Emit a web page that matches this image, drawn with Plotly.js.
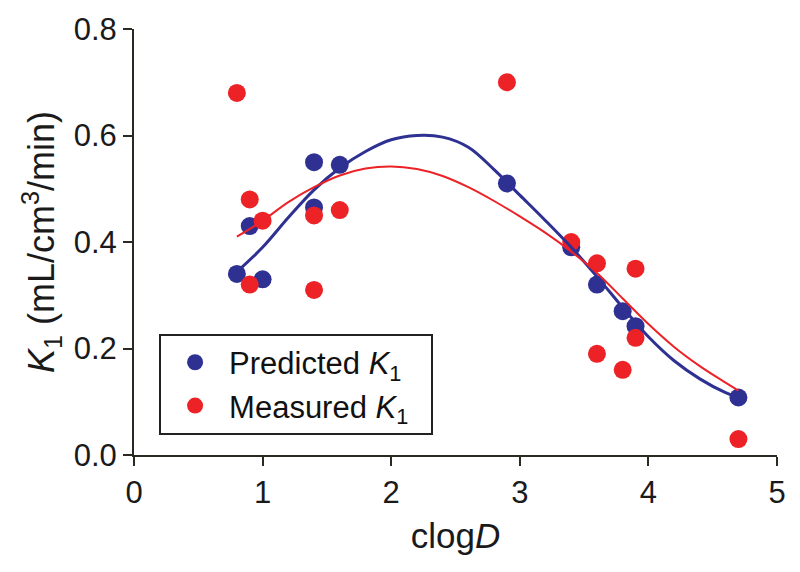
<!DOCTYPE html>
<html>
<head>
<meta charset="utf-8">
<script src="https://cdn.plot.ly/plotly-3.0.1.min.js"></script>
<style>html,body{margin:0;padding:0;background:#fff;}#chart{width:800px;height:572px;}</style>
</head>
<body>
<div id="chart"></div>
<script>
// Predicted K1 points
const predX = [0.8, 0.9, 1.0, 1.4, 1.4, 1.6, 2.9, 3.4, 3.6, 3.8, 3.9, 4.7];
const predY = [0.34, 0.43, 0.33, 0.55, 0.465, 0.545, 0.51, 0.39, 0.32, 0.27, 0.242, 0.108];
// Measured K1 points
const measX = [0.8, 0.9, 0.9, 1.0, 1.4, 1.4, 1.6, 2.9, 3.4, 3.6, 3.6, 3.8, 3.9, 3.9, 4.7];
const measY = [0.68, 0.48, 0.32, 0.44, 0.45, 0.31, 0.46, 0.70, 0.40, 0.36, 0.19, 0.16, 0.35, 0.22, 0.03];
// Fitted curves
const fitX = [0.8, 1.0, 1.2, 1.4, 1.6, 1.8, 2.0, 2.2, 2.4, 2.6, 2.8, 3.0, 3.2, 3.4, 3.6, 3.8, 4.0, 4.2, 4.4, 4.6, 4.7];
const predFit = [0.344, 0.39, 0.446, 0.498, 0.539, 0.570, 0.592, 0.600, 0.597, 0.578, 0.536, 0.488, 0.440, 0.390, 0.335, 0.277, 0.222, 0.177, 0.143, 0.117, 0.108];
const measFit = [0.41, 0.440, 0.475, 0.503, 0.525, 0.538, 0.542, 0.537, 0.524, 0.503, 0.477, 0.448, 0.417, 0.382, 0.342, 0.294, 0.246, 0.203, 0.167, 0.136, 0.121];
const xTicks = [0, 1, 2, 3, 4, 5];
const yTicks = [0.0, 0.2, 0.4, 0.6, 0.8];

const BLUE = '#2e3192';
const RED = '#ec2227';
const FONT = 'Liberation Sans, Arial, Helvetica, sans-serif';

const traces = [
  {x: predX, y: predY, mode: 'markers', type: 'scatter', name: 'Predicted <i>K</i><sub>1</sub>&nbsp;&nbsp;',
   marker: {color: BLUE, size: 18, symbol: 'circle'}},
  {x: measX, y: measY, mode: 'markers', type: 'scatter', name: 'Measured <i>K</i><sub>1</sub>&nbsp;&nbsp;',
   marker: {color: RED, size: 18, symbol: 'circle'}},
  {x: fitX, y: predFit, mode: 'lines', type: 'scatter', showlegend: false,
   line: {color: BLUE, width: 3, shape: 'spline', smoothing: 1}},
  {x: fitX, y: measFit, mode: 'lines', type: 'scatter', showlegend: false,
   line: {color: RED, width: 2, shape: 'spline', smoothing: 1}}
];

const layout = {
  width: 800, height: 572,
  margin: {l: 134, r: 23, t: 29, b: 117},
  paper_bgcolor: '#fff', plot_bgcolor: '#fff',
  font: {family: FONT, color: '#1a1a1a', size: 30},
  xaxis: {
    range: [0, 5], tickvals: xTicks, ticktext: xTicks.map(String),
    showgrid: false, zeroline: false, showline: true, linecolor: '#2a2a22', linewidth: 2,
    ticks: 'outside', ticklen: 9, tickwidth: 2, tickcolor: '#2a2a22',
    tickfont: {size: 31, family: FONT, color: '#1a1a1a'},
    title: {text: 'clog<i>D</i>', font: {size: 35, family: FONT, color: '#1a1a1a'}, standoff: 14},
    automargin: false
  },
  yaxis: {
    range: [0, 0.8], tickvals: yTicks, ticktext: yTicks.map(v => v.toFixed(1)),
    showgrid: false, zeroline: false, showline: true, linecolor: '#2a2a22', linewidth: 2,
    ticks: 'outside', ticklen: 9, tickwidth: 2, tickcolor: '#2a2a22',
    tickfont: {size: 31, family: FONT, color: '#1a1a1a'},
    title: {text: '<i>K</i><sub>1</sub> (mL/cm<sup>3</sup>/min)', font: {size: 36, family: FONT, color: '#1a1a1a'}, standoff: 8},
    automargin: false
  },
  legend: {
    x: 0.039, y: 0.285, xanchor: 'left', yanchor: 'top',
    bordercolor: '#222', borderwidth: 2, bgcolor: '#fff',
    font: {size: 31, family: FONT, color: '#111'},
    itemwidth: 58, tracegroupgap: 0
  },
  showlegend: true
};

Plotly.newPlot('chart', traces, layout, {displayModeBar: false, staticPlot: true});
</script>
</body>
</html>
